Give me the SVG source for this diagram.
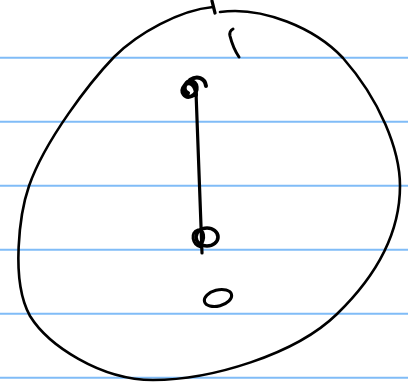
<svg xmlns="http://www.w3.org/2000/svg" width="408" height="383" viewBox="0 0 408 383">
<style>
.rule{stroke:#80bcf7;stroke-width:2}
.ink{fill:none;stroke:#000;stroke-linecap:round;stroke-linejoin:round}
</style>
<rect width="408" height="383" fill="#fff"/>
<g id="paper-lines">
<line class="rule" x1="0" y1="57.7" x2="408" y2="57.7"/>
<line class="rule" x1="0" y1="121.7" x2="408" y2="121.7"/>
<line class="rule" x1="0" y1="185.7" x2="408" y2="185.7"/>
<line class="rule" x1="0" y1="249.7" x2="408" y2="249.7"/>
<line class="rule" x1="0" y1="313.7" x2="408" y2="313.7"/>
<line class="rule" x1="0" y1="377.7" x2="408" y2="377.7"/>
</g>
<g id="outer-loop">
<path class="ink" stroke-width="2.6" d="M213 7 C180 10 138 33 114 57 C90 82 45 140 29 186 C20 212 10 280 30 316 C48 345 100 380 153 380 C210 380 295 355 337 314 C370 282 400 240 400 186 C400 150 380 100 343 58 C315 28 262 6 220 12"/>
<path class="ink" stroke-width="3.2" d="M212 1 L215 13"/>
<path class="ink" stroke-width="3" d="M233 29 Q229 31 230 36 Q233 48 239 57"/>
</g>
<g id="connectors">
<path class="ink" stroke-width="3.2" d="M196 92 L202 253"/>
</g>
<g id="node-top">
<path class="ink" stroke-width="4" d="M196 95 C196 86 190 80 185 85 C179 92 185 99 192 96 C199 92 198 81 190 81 C185 82 182 90 188 93 M190 80 C197 75 205 78 206 86"/>
</g>
<g id="node-middle">
<ellipse class="ink" stroke-width="3.6" cx="207" cy="237" rx="11" ry="9"/>
<path class="ink" stroke-width="3" d="M201 247 C192 245 190 232 198 230 C204 229 206 238 200 246"/>
</g>
<g id="node-bottom">
<ellipse class="ink" stroke-width="3" cx="218" cy="298" rx="14" ry="8" transform="rotate(-15 218 298)"/>
</g>
</svg>
